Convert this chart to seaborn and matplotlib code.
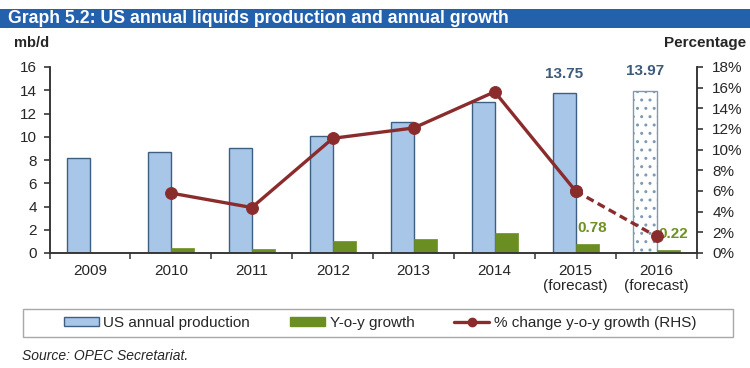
import numpy as np
import pandas as pd
import matplotlib
matplotlib.use("Agg")
import matplotlib.pyplot as plt
from matplotlib.patches import Patch, Rectangle
from matplotlib.lines import Line2D
from matplotlib import font_manager
import seaborn as sns

years = ["2009", "2010", "2011", "2012", "2013", "2014", "2015", "2016"]
year_labels = ["2009", "2010", "2011", "2012", "2013", "2014",
               "2015\n(forecast)", "2016\n(forecast)"]
production = [8.16, 8.65, 9.03, 10.03, 11.25, 13.00, 13.75, 13.97]
growth = [np.nan, 0.47, 0.38, 1.00, 1.21, 1.75, 0.78, 0.22]
pct_change = [np.nan, 5.8, 4.4, 11.1, 12.1, 15.6, 6.0, 1.6]
series = ["US annual production", "Y-o-y growth"]

BLUE = "#a8c6e8"
BLUE_EDGE = "#3d5f82"
GREEN = "#6b8e23"
RED = "#8b2c2c"
BAND = "#2461ad"
LABEL_BLUE = "#3e5a7a"

sns.set_style("ticks")
plt.rcParams["font.family"] = ["Liberation Sans", "DejaVu Sans"]
plt.rcParams["axes.edgecolor"] = "#333333"
plt.rcParams["axes.linewidth"] = 1.1

def pick_font(name, fallback):
    try:
        font_manager.findfont(name, fallback_to_default=False)
        return name
    except Exception:
        return fallback

title_font = pick_font("Liberation Sans Narrow", "Liberation Sans")

df = pd.DataFrame({
    "year": years * 2,
    "series": [series[0]] * len(years) + [series[1]] * len(years),
    "value": production + growth,
}).dropna()

fig = plt.figure(figsize=(7.5, 3.68), dpi=100)
ax = fig.add_axes([49.5 / 750, 1 - 253 / 368, 647.5 / 750, 186 / 368])

sns.barplot(data=df, x="year", y="value", hue="series", order=years,
            hue_order=series, palette=[BLUE, GREEN], width=0.57,
            saturation=1, legend=False, ax=ax)

for bar in ax.containers[0]:
    bar.set_edgecolor(BLUE_EDGE)
    bar.set_linewidth(1.0)
for bar in ax.containers[1]:
    bar.set_edgecolor(GREEN)
    bar.set_linewidth(0.5)

# 2016 forecast bar is dotted
last = ax.containers[0][-1]
last.set_facecolor("white")
last.set_hatch("..")
last.set_edgecolor("#8299b3")

ax.set_xlim(-0.5, len(years) - 0.5)
ax.set_ylim(0, 16)
ax.set_yticks(np.arange(0, 17, 2))
ax.set_xticks(np.arange(len(years)))
ax.set_xticklabels(year_labels, linespacing=1.1)
ax.set_xticks(np.arange(-0.5, len(years), 1), minor=True)
ax.tick_params(axis="x", which="major", length=0, pad=8, labelsize=11)
ax.tick_params(axis="x", which="minor", length=4, width=1.1, color="#333333")
ax.tick_params(axis="y", length=4, width=1.1, pad=5, labelsize=11)
ax.set_xlabel("")
ax.set_ylabel("")
ax.spines["top"].set_visible(False)

# data labels
for i in (6, 7):
    ax.annotate(f"{production[i]:.2f}", (i - 0.14, production[i]),
                xytext=(0, 14), textcoords="offset points", ha="center",
                va="center", fontsize=11, fontweight="bold", color=LABEL_BLUE)
for i in (6, 7):
    ax.annotate(f"{growth[i]:.2f}", (i + 0.14, growth[i]),
                xytext=(4, 11.5), textcoords="offset points", ha="center",
                va="center", fontsize=11, fontweight="bold", color="#6f9124")

ax2 = ax.twinx()
idx = np.arange(len(years))
sns.lineplot(x=idx[1:7], y=pct_change[1:7], ax=ax2, color=RED, lw=2.4,
             marker="o", markersize=8.5, markeredgecolor=RED)
sns.lineplot(x=idx[6:8], y=pct_change[6:8], ax=ax2, color=RED, lw=2.4,
             linestyle=(0, (2.4, 1.4)), marker="o", markersize=8.5,
             markeredgecolor=RED)
ax2.set_ylim(0, 18)
ax2.set_yticks(np.arange(0, 19, 2))
ax2.set_yticklabels([f"{v}%" for v in range(0, 19, 2)])
ax2.tick_params(axis="y", length=4, width=1.1, pad=7, labelsize=11)
ax2.spines["top"].set_visible(False)
ax2.set_xlim(-0.5, len(years) - 0.5)

# title band
fig.add_artist(Rectangle((0, 1 - 28 / 368), 1, 19 / 368,
                         transform=fig.transFigure, facecolor=BAND,
                         edgecolor="none"))
fig.text(8 / 750, 1 - 18.5 / 368,
         "Graph 5.2: US annual liquids production and annual growth",
         family=[title_font, "DejaVu Sans"], fontsize=12.7, fontweight="bold",
         color="white", va="center", ha="left")
fig.text(14 / 750, 1 - 43 / 368, "mb/d", fontsize=10.5, fontweight="bold",
         va="center", ha="left")
fig.text(746 / 750, 1 - 43 / 368, "Percentage", fontsize=11,
         fontweight="bold", va="center", ha="right")

# legend
fig.add_artist(Rectangle((23 / 750, 1 - 337 / 368), 710 / 750, 28 / 368,
                         transform=fig.transFigure, facecolor="white",
                         edgecolor="#a8a8a8", lw=1))
handles = [
    Patch(facecolor=BLUE, edgecolor=BLUE_EDGE, lw=1),
    Patch(facecolor=GREEN, edgecolor=GREEN),
    Line2D([], [], color=RED, lw=2.4, marker="o", markersize=6),
]
labels = ["US annual production", "Y-o-y growth",
          "% change y-o-y growth (RHS)"]
fig.legend(handles, labels, loc="center", bbox_to_anchor=(380 / 750, 1 - 323 / 368),
           ncol=3, frameon=False, fontsize=11, handlelength=2.3,
           handleheight=0.55, handletextpad=0.3, columnspacing=2.6)

fig.text(22 / 750, 1 - 356 / 368, "Source: OPEC Secretariat.", fontsize=10,
         style="italic", va="center", ha="left")

fig.savefig("out.png", dpi=100)
